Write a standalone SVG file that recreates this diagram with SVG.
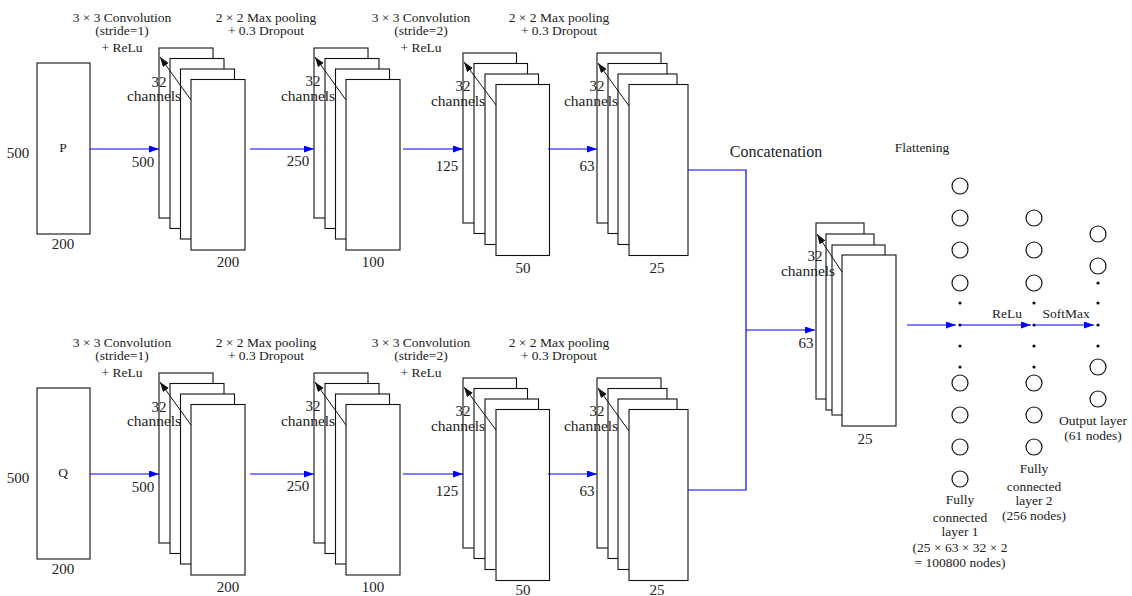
<svg xmlns="http://www.w3.org/2000/svg" width="1132" height="596" viewBox="0 0 1132 596" font-family="'Liberation Serif','Times New Roman','DejaVu Serif',serif">
<style>
text{font-family:'Liberation Serif','Times New Roman','DejaVu Serif',serif;fill:#222;text-anchor:middle}
.t{font-size:13.5px}
.n{font-size:15px}
.ch{font-size:15.5px}
.big{font-size:16px}
.box{fill:#fff;stroke:#111;stroke-width:1.1}
.blue{fill:none;stroke:#0000ff;stroke-width:1.2}
.blk{fill:none;stroke:#111;stroke-width:1}
.node{fill:#fff;stroke:#111;stroke-width:1.2}
.dot{fill:#111}
</style>
<defs>
<marker id="ab" markerUnits="userSpaceOnUse" markerWidth="12" markerHeight="8" refX="10" refY="3.5" orient="auto"><path d="M0,0 L10,3.5 L0,7 z" fill="#0000ff"/></marker>
<marker id="ak" markerUnits="userSpaceOnUse" markerWidth="12" markerHeight="8" refX="10" refY="3.5" orient="auto"><path d="M0,0 L10,3.5 L0,7 z" fill="#111"/></marker>
</defs>

<!-- ===== TOP ROW ===== -->
<g id="inputP">
<rect class="box" x="37" y="63" width="53" height="171"/>
<text class="t" x="63" y="152">P</text>
<text class="n" x="18" y="158">500</text>
<text class="n" x="63" y="249">200</text>
</g>
<g id="convP1">
<text class="t" x="122" y="22">3 × 3 Convolution</text>
<text class="t" x="122" y="35">(stride=1)</text>
<text class="t" x="122" y="52">+ ReLu</text>
<rect class="box" x="159" y="48" width="54" height="170"/>
<rect class="box" x="170" y="58.5" width="54" height="170"/>
<rect class="box" x="180.5" y="69" width="54" height="170"/>
<rect class="box" x="191" y="79.5" width="54" height="170.5"/>
<line class="blk" x1="191" y1="100" x2="160" y2="57" marker-end="url(#ak)"/>
<text class="n" x="159" y="87">32</text>
<text class="ch" x="154" y="101">channels</text>
<text class="n" x="143" y="167">500</text>
<text class="n" x="228" y="267">200</text>
</g>
<g id="poolP1">
<text class="t" x="266" y="22">2 × 2 Max pooling</text>
<text class="t" x="266" y="35">+ 0.3 Dropout</text>
<rect class="box" x="314" y="48" width="54" height="170"/>
<rect class="box" x="325" y="58.5" width="54" height="170"/>
<rect class="box" x="335.5" y="69" width="54" height="170"/>
<rect class="box" x="346" y="79.5" width="54" height="170.5"/>
<line class="blk" x1="346" y1="100" x2="315" y2="57" marker-end="url(#ak)"/>
<text class="n" x="313" y="86">32</text>
<text class="ch" x="308" y="101">channels</text>
<text class="n" x="298" y="166">250</text>
<text class="n" x="373" y="267">100</text>
</g>
<g id="convP2">
<text class="t" x="421" y="22">3 × 3 Convolution</text>
<text class="t" x="421" y="35">(stride=2)</text>
<text class="t" x="421" y="52">+ ReLu</text>
<rect class="box" x="463" y="53" width="53.5" height="170"/>
<rect class="box" x="474" y="63.5" width="53.5" height="170"/>
<rect class="box" x="485" y="74" width="53.5" height="170.5"/>
<rect class="box" x="496" y="84.5" width="53.5" height="171"/>
<line class="blk" x1="496" y1="105" x2="464" y2="62" marker-end="url(#ak)"/>
<text class="n" x="463" y="91">32</text>
<text class="ch" x="458" y="106">channels</text>
<text class="n" x="447" y="171">125</text>
<text class="n" x="523" y="273">50</text>
</g>
<g id="poolP2">
<text class="t" x="559" y="22">2 × 2 Max pooling</text>
<text class="t" x="559" y="35">+ 0.3 Dropout</text>
<rect class="box" x="597" y="53" width="64" height="170"/>
<rect class="box" x="608" y="63.5" width="59" height="170"/>
<rect class="box" x="618" y="74" width="59" height="170.5"/>
<rect class="box" x="629" y="84.5" width="59" height="171"/>
<line class="blk" x1="629" y1="106" x2="598" y2="63" marker-end="url(#ak)"/>
<text class="n" x="597" y="91">32</text>
<text class="ch" x="591" y="106">channels</text>
<text class="n" x="587" y="171">63</text>
<text class="n" x="657" y="273">25</text>
</g>

<!-- ===== BOTTOM ROW ===== -->
<g id="inputQ" transform="translate(0,325)">
<rect class="box" x="37" y="63" width="53" height="171"/>
<text class="t" x="63" y="152">Q</text>
<text class="n" x="18" y="158">500</text>
<text class="n" x="63" y="249">200</text>
</g>
<g id="convQ1" transform="translate(0,325)">
<text class="t" x="122" y="22">3 × 3 Convolution</text>
<text class="t" x="122" y="35">(stride=1)</text>
<text class="t" x="122" y="52">+ ReLu</text>
<rect class="box" x="159" y="48" width="54" height="170"/>
<rect class="box" x="170" y="58.5" width="54" height="170"/>
<rect class="box" x="180.5" y="69" width="54" height="170"/>
<rect class="box" x="191" y="79.5" width="54" height="170.5"/>
<line class="blk" x1="191" y1="100" x2="160" y2="57" marker-end="url(#ak)"/>
<text class="n" x="159" y="87">32</text>
<text class="ch" x="154" y="101">channels</text>
<text class="n" x="143" y="167">500</text>
<text class="n" x="228" y="267">200</text>
</g>
<g id="poolQ1" transform="translate(0,325)">
<text class="t" x="266" y="22">2 × 2 Max pooling</text>
<text class="t" x="266" y="35">+ 0.3 Dropout</text>
<rect class="box" x="314" y="48" width="54" height="170"/>
<rect class="box" x="325" y="58.5" width="54" height="170"/>
<rect class="box" x="335.5" y="69" width="54" height="170"/>
<rect class="box" x="346" y="79.5" width="54" height="170.5"/>
<line class="blk" x1="346" y1="100" x2="315" y2="57" marker-end="url(#ak)"/>
<text class="n" x="313" y="86">32</text>
<text class="ch" x="308" y="101">channels</text>
<text class="n" x="298" y="166">250</text>
<text class="n" x="373" y="267">100</text>
</g>
<g id="convQ2" transform="translate(0,325)">
<text class="t" x="421" y="22">3 × 3 Convolution</text>
<text class="t" x="421" y="35">(stride=2)</text>
<text class="t" x="421" y="52">+ ReLu</text>
<rect class="box" x="463" y="53" width="53.5" height="170"/>
<rect class="box" x="474" y="63.5" width="53.5" height="170"/>
<rect class="box" x="485" y="74" width="53.5" height="170.5"/>
<rect class="box" x="496" y="84.5" width="53.5" height="171"/>
<line class="blk" x1="496" y1="105" x2="464" y2="62" marker-end="url(#ak)"/>
<text class="n" x="463" y="91">32</text>
<text class="ch" x="458" y="106">channels</text>
<text class="n" x="447" y="171">125</text>
<text class="n" x="523" y="270">50</text>
</g>
<g id="poolQ2" transform="translate(0,325)">
<text class="t" x="559" y="22">2 × 2 Max pooling</text>
<text class="t" x="559" y="35">+ 0.3 Dropout</text>
<rect class="box" x="597" y="53" width="64" height="170"/>
<rect class="box" x="608" y="63.5" width="59" height="170"/>
<rect class="box" x="618" y="74" width="59" height="170.5"/>
<rect class="box" x="629" y="84.5" width="59" height="171"/>
<line class="blk" x1="629" y1="106" x2="598" y2="63" marker-end="url(#ak)"/>
<text class="n" x="597" y="91">32</text>
<text class="ch" x="591" y="106">channels</text>
<text class="n" x="587" y="171">63</text>
<text class="n" x="657" y="270">25</text>
</g>

<!-- ===== CONCATENATION ===== -->
<g id="concat">
<text class="big" x="776" y="157">Concatenation</text>
<rect class="box" x="816" y="223" width="48" height="176"/>
<rect class="box" x="826" y="234" width="48" height="176"/>
<rect class="box" x="832" y="245" width="53" height="170"/>
<rect class="box" x="842" y="255" width="54" height="171"/>
<line class="blk" x1="842" y1="272" x2="817" y2="234" marker-end="url(#ak)"/>
<text class="n" x="815" y="261">32</text>
<text class="ch" x="808" y="276">channels</text>
<text class="n" x="806" y="348">63</text>
<text class="n" x="865" y="444">25</text>
</g>

<!-- ===== FULLY CONNECTED ===== -->
<g id="flatten">
<text class="t" x="922" y="152">Flattening</text>
</g>
<g id="fc1">
<circle class="node" cx="960" cy="186" r="8"/>
<circle class="node" cx="960" cy="218" r="8"/>
<circle class="node" cx="960" cy="250" r="8"/>
<circle class="node" cx="960" cy="283" r="8"/>
<circle class="dot" cx="960" cy="303" r="1.6"/>
<circle class="dot" cx="960" cy="325" r="1.6"/>
<circle class="dot" cx="960" cy="346" r="1.6"/>
<circle class="dot" cx="960" cy="367" r="1.6"/>
<circle class="node" cx="960" cy="383" r="8"/>
<circle class="node" cx="960" cy="415" r="8"/>
<circle class="node" cx="960" cy="447" r="8"/>
<circle class="node" cx="960" cy="479" r="8"/>
<text class="t" x="960" y="504">Fully</text>
<text class="t" x="960" y="522">connected</text>
<text class="t" x="960" y="536">layer 1</text>
<text class="t" x="960" y="552">(25 × 63 × 32 × 2</text>
<text class="t" x="960" y="567">= 100800 nodes)</text>
</g>
<g id="fc2">
<circle class="node" cx="1034" cy="218" r="8"/>
<circle class="node" cx="1034" cy="250" r="8"/>
<circle class="node" cx="1034" cy="283" r="8"/>
<circle class="dot" cx="1034" cy="303" r="1.6"/>
<circle class="dot" cx="1034" cy="325" r="1.6"/>
<circle class="dot" cx="1034" cy="346" r="1.6"/>
<circle class="dot" cx="1034" cy="367" r="1.6"/>
<circle class="node" cx="1034" cy="383" r="8"/>
<circle class="node" cx="1034" cy="415" r="8"/>
<circle class="node" cx="1034" cy="447" r="8"/>
<text class="t" x="1034" y="473">Fully</text>
<text class="t" x="1034" y="491">connected</text>
<text class="t" x="1034" y="505">layer 2</text>
<text class="t" x="1034" y="520">(256 nodes)</text>
</g>
<g id="output">
<circle class="node" cx="1098" cy="234" r="8"/>
<circle class="node" cx="1098" cy="266" r="8"/>
<circle class="dot" cx="1098" cy="283" r="1.6"/>
<circle class="dot" cx="1098" cy="303" r="1.6"/>
<circle class="dot" cx="1098" cy="325" r="1.6"/>
<circle class="dot" cx="1098" cy="346" r="1.6"/>
<circle class="node" cx="1098" cy="367" r="8"/>
<circle class="node" cx="1098" cy="399" r="8"/>
<text class="t" x="1093" y="425">Output layer</text>
<text class="t" x="1093" y="440">(61 nodes)</text>
</g>

<!-- ===== CONNECTORS ===== -->
<g id="connectors">
<line class="blue" x1="90" y1="149" x2="159" y2="149" marker-end="url(#ab)"/>
<line class="blue" x1="250" y1="149" x2="314" y2="149" marker-end="url(#ab)"/>
<line class="blue" x1="403" y1="149" x2="463" y2="149" marker-end="url(#ab)"/>
<line class="blue" x1="548" y1="149" x2="597" y2="149" marker-end="url(#ab)"/>
<line class="blue" x1="90" y1="474" x2="159" y2="474" marker-end="url(#ab)"/>
<line class="blue" x1="250" y1="474" x2="314" y2="474" marker-end="url(#ab)"/>
<line class="blue" x1="403" y1="474" x2="463" y2="474" marker-end="url(#ab)"/>
<line class="blue" x1="548" y1="474" x2="597" y2="474" marker-end="url(#ab)"/>
<polyline class="blue" points="688,170 746,170 746,490 688,490"/>
<line class="blue" x1="746" y1="330" x2="815" y2="330" marker-end="url(#ab)"/>
<line class="blue" x1="907" y1="325" x2="956" y2="325" marker-end="url(#ab)"/>
<line class="blue" x1="960" y1="325" x2="1031" y2="325" marker-end="url(#ab)"/>
<line class="blue" x1="1034" y1="325" x2="1094" y2="325" marker-end="url(#ab)"/>
<text class="t" x="1007" y="318">ReLu</text>
<text class="t" x="1066" y="318">SoftMax</text>
</g>
</svg>
